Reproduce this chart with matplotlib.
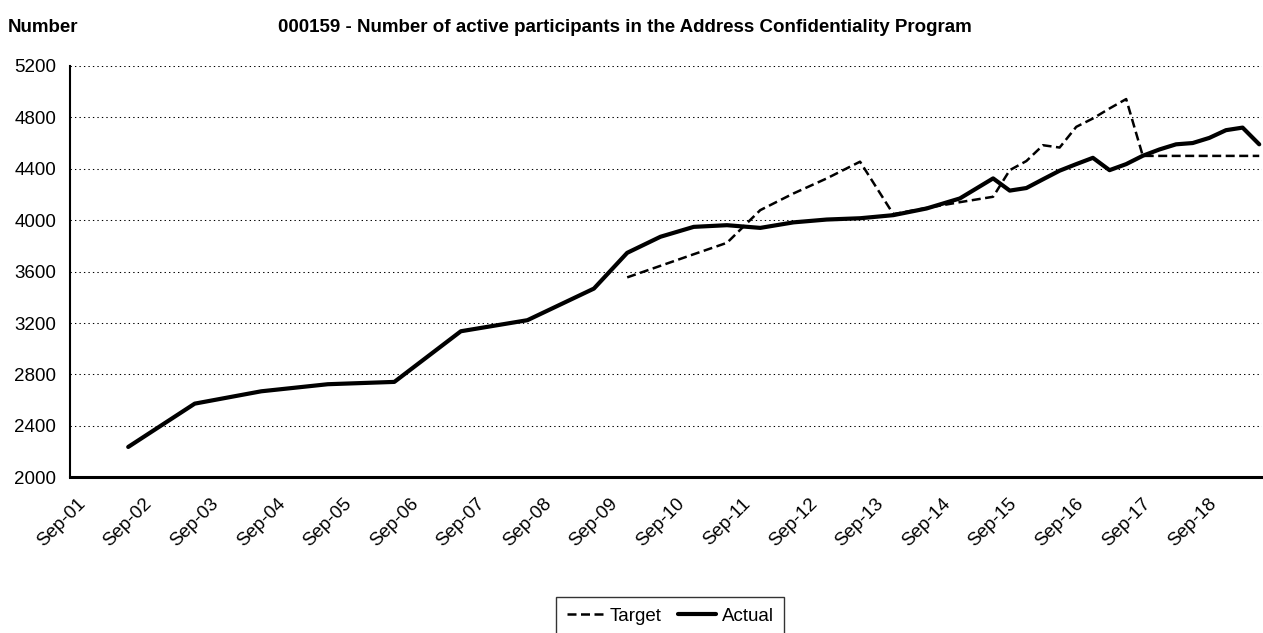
import matplotlib
matplotlib.use("Agg")
import matplotlib.pyplot as plt
from matplotlib.transforms import ScaledTranslation

plt.rcParams['font.family'] = ['Liberation Sans', 'DejaVu Sans']
plt.rcParams['font.size'] = 13.5

# dates as (year, month)
actual_dates = [(2002, 7), (2003, 7), (2004, 7), (2005, 7), (2006, 7), (2007, 7), (2008, 7), (2009, 7),
                (2010, 1), (2010, 7), (2011, 1), (2011, 7), (2012, 1), (2012, 7), (2013, 1), (2013, 7),
                (2014, 1), (2014, 7), (2015, 1), (2015, 7), (2015, 10), (2016, 1), (2016, 4), (2016, 7),
                (2016, 10), (2017, 1), (2017, 4), (2017, 7), (2017, 10), (2018, 1), (2018, 4), (2018, 7),
                (2018, 10), (2019, 1), (2019, 4), (2019, 7)]
actual = [2236, 2573, 2669, 2724, 2742, 3136, 3222, 3468,
          3746, 3871, 3948, 3961, 3940, 3983, 4005, 4015,
          4039, 4091, 4169, 4325, 4230, 4250, 4318, 4385,
          4436, 4485, 4389, 4436, 4501, 4550, 4590, 4600,
          4640, 4700, 4720, 4590]

target_dates = [(2010, 1), (2010, 7), (2011, 1), (2011, 7), (2012, 1), (2012, 7), (2013, 1), (2013, 7),
                (2014, 1), (2014, 7), (2015, 1), (2015, 7), (2015, 10), (2016, 1), (2016, 4), (2016, 7),
                (2016, 10), (2017, 1), (2017, 4), (2017, 7), (2017, 10), (2018, 1), (2018, 4), (2018, 7),
                (2018, 10), (2019, 1), (2019, 4), (2019, 7)]
target = [3555, 3645, 3735, 3824, 4078, 4208, 4325, 4455,
          4047, 4095, 4140, 4182, 4389, 4460, 4583, 4565,
          4726, 4791, 4869, 4942, 4500, 4500, 4500, 4500,
          4500, 4500, 4500, 4500]

tick_labels = ['Sep-%02d' % y for y in range(1, 19)]
y_ticks = list(range(2000, 5201, 400))


def month_pos(d):
    # month slots counted from Sep 2001, point sits in the middle of its slot
    return (d[0] - 2001) * 12 + (d[1] - 9) + 0.5


fig = plt.figure(figsize=(12.63, 6.33), dpi=100)
ax = fig.add_axes([70 / 1263, 1 - 477.3 / 633, (1262 - 70) / 1263, (477.3 - 65.9) / 633])

xa = [month_pos(d) for d in actual_dates]
xt = [month_pos(d) for d in target_dates]

ax.plot(xt, target, color='black', lw=1.8, linestyle=(0, (3.6, 1.8)), label='Target')
ax.plot(xa, actual, color='black', lw=3.0, solid_capstyle='round', label='Actual')

ax.set_xlim(0, 215)
ax.set_ylim(2000, 5200)
ax.set_yticks(y_ticks)
ax.set_xticks([12 * i for i in range(len(tick_labels))])
ax.set_xticklabels(tick_labels, rotation=45, ha='right', va='center', rotation_mode='anchor')
ax.tick_params(axis='x', length=0, pad=17)
ax.tick_params(axis='y', length=0, pad=10)
for lab in ax.get_xticklabels():
    lab.set_transform(lab.get_transform() + ScaledTranslation(0.13, 0, fig.dpi_scale_trans))

ax.yaxis.grid(True, color='black', lw=0.75, linestyle=(0, (1.3, 3)))
ax.set_axisbelow(True)
for s in ['top', 'right']:
    ax.spines[s].set_visible(False)
ax.spines['left'].set_linewidth(1.5)
ax.spines['bottom'].set_linewidth(2.2)

fig.text(8 / 1263, 1 - 27 / 633, 'Number', fontweight='bold', va='center', ha='left')
fig.text(278 / 1263, 1 - 27 / 633, '000159 - Number of active participants in the Address Confidentiality Program',
         fontweight='bold', va='center', ha='left')

leg = fig.legend(loc='upper center', bbox_to_anchor=(670 / 1263, 1 - 588 / 633), ncol=2,
                 frameon=True, fancybox=False, edgecolor='black', handlelength=2.0,
                 handletextpad=0.3, columnspacing=0.9, borderpad=0.55)
leg.get_frame().set_linewidth(1.0)

fig.savefig('out.png', dpi=100)
